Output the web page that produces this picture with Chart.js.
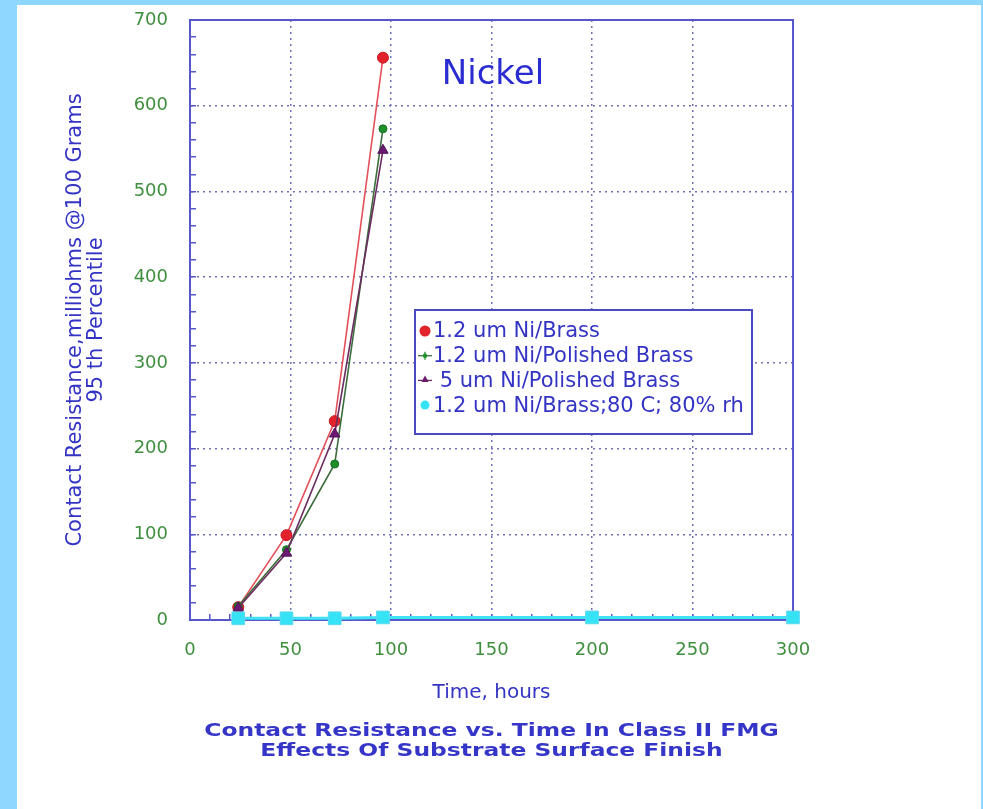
<!DOCTYPE html>
<html>
<head>
<meta charset="utf-8">
<script src="https://cdn.jsdelivr.net/npm/chart.js@4.4.1/dist/chart.umd.min.js"></script>
<style>
  html, body { margin: 0; padding: 0; }
  body { width: 983px; height: 809px; background: #8fd7fd; position: relative; overflow: hidden; }
  #panel { position: absolute; left: 17px; top: 5px; width: 964px; height: 804px; background: #ffffff; }
  canvas { display: block; }
</style>
</head>
<body>
<div id="panel"><canvas id="chart" width="964" height="804"></canvas></div>
<script>
// Exposure time (hours) and 95th-percentile contact resistance (milliohms) per finish
const seriesLabels = [
  '1.2 um Ni/Brass',
  '1.2 um Ni/Polished Brass',
  ' 5 um Ni/Polished Brass',
  '1.2 um Ni/Brass;80 C; 80% rh'
];
const hoursFmg = [24, 48, 72, 96];
const niBrass = [15, 99, 232, 656];
const niPolishedBrass = [16, 82, 182, 573];
const ni5PolishedBrass = [14, 78, 217, 548];
const hoursHumid = [24, 48, 72, 96, 200, 300];
const niBrassHumid = [2, 2, 2, 3, 3, 3];

const xTickLabels = [0, 50, 100, 150, 200, 250, 300];
const yTickLabels = [0, 100, 200, 300, 400, 500, 600, 700];

const chartTitle = 'Nickel';
const xAxisTitle = 'Time, hours';
const yAxisTitle = ['Contact Resistance,milliohms @100 Grams', '95 th Percentile'];
const caption = ['Contact Resistance vs. Time In Class II FMG', 'Effects Of Substrate Surface Finish'];

const AXIS = '#5757cc';
const DOTS = 'rgba(88,88,172,0.85)';
const TICK_TEXT = '#3f8f3f';
const BLUE_TEXT = '#3434c4';
const FONT = '"DejaVu Sans", sans-serif';

const toPoints = (xs, ys) => xs.map((x, i) => ({ x: x, y: ys[i] }));

const styles = [
  { line: '#e4505a', fill: '#e3232c', border: '#c81820', point: 'circle', r: 5.5 },
  { line: '#3d6d3d', fill: '#1f8f2a', border: '#16701f', point: 'circle', r: 4 },
  { line: '#6c2c60', fill: '#6a1a70', border: '#55105a', point: 'triangle', r: 6 },
  { line: '#3fe4f4', fill: '#35e2f6', border: '#5fd8f0', point: 'rect', r: 9 }
];
const seriesData = [
  toPoints(hoursFmg, niBrass),
  toPoints(hoursFmg, niPolishedBrass),
  toPoints(hoursFmg, ni5PolishedBrass),
  toPoints(hoursHumid, niBrassHumid)
];

const datasets = seriesData.map((d, i) => ({
  label: seriesLabels[i],
  data: d,
  showLine: true,
  borderColor: styles[i].line,
  borderWidth: i === 3 ? 3 : 1.6,
  backgroundColor: styles[i].fill,
  pointBackgroundColor: styles[i].fill,
  pointBorderColor: styles[i].border,
  pointBorderWidth: 1,
  pointStyle: styles[i].point,
  pointRadius: styles[i].r,
  tension: 0,
  clip: false,
  order: 4 - i
}));

// Box around the plot plus the in-plot legend, title and caption
const decorations = {
  id: 'decorations',
  beforeDatasetsDraw(chart) {
    const { ctx, chartArea: a } = chart;
    ctx.save();
    ctx.strokeStyle = AXIS;
    ctx.lineWidth = 2;
    ctx.beginPath();
    ctx.moveTo(a.left, a.top);
    ctx.lineTo(a.right, a.top);
    ctx.lineTo(a.right, a.bottom);
    ctx.stroke();
    ctx.restore();
  },
  afterDraw(chart) {
    const { ctx, chartArea: a } = chart;
    ctx.save();

    // title inside plot
    ctx.fillStyle = '#2b2bd2';
    ctx.font = '34px ' + FONT;
    ctx.textAlign = 'center';
    ctx.textBaseline = 'middle';
    ctx.fillText(chartTitle, a.left + 303, a.top + 55);

    // legend box
    const lx = a.left + 225, ly = a.top + 290, lw = 337, lh = 124;
    ctx.fillStyle = '#ffffff';
    ctx.fillRect(lx, ly, lw, lh);
    ctx.strokeStyle = '#4a4ac2';
    ctx.lineWidth = 2;
    ctx.strokeRect(lx, ly, lw, lh);
    ctx.font = '21px ' + FONT;
    ctx.textAlign = 'left';
    ctx.textBaseline = 'middle';
    for (let i = 0; i < seriesLabels.length; i++) {
      const cy = ly + 21 + i * 24.7;
      const mx = lx + 10;
      const s = styles[i];
      if (i === 1 || i === 2) {
        ctx.strokeStyle = s.line;
        ctx.lineWidth = 1.3;
        ctx.beginPath();
        ctx.moveTo(mx - 7, cy);
        ctx.lineTo(mx + 7, cy);
        ctx.stroke();
      }
      ctx.fillStyle = s.fill;
      ctx.beginPath();
      if (i === 0) {
        ctx.arc(mx, cy, 5.5, 0, Math.PI * 2);
        ctx.fill();
      } else if (i === 1) {
        ctx.strokeStyle = s.fill;
        ctx.lineWidth = 1.3;
        ctx.moveTo(mx, cy - 4);
        ctx.lineTo(mx, cy + 4);
        ctx.stroke();
        ctx.beginPath();
        ctx.arc(mx, cy, 2.2, 0, Math.PI * 2);
        ctx.fill();
      } else if (i === 2) {
        ctx.moveTo(mx, cy - 5);
        ctx.lineTo(mx + 3.5, cy + 1.5);
        ctx.lineTo(mx - 3.5, cy + 1.5);
        ctx.closePath();
        ctx.fill();
      } else {
        ctx.arc(mx, cy, 4.5, 0, Math.PI * 2);
        ctx.fill();
      }
      ctx.fillStyle = BLUE_TEXT;
      ctx.fillText(seriesLabels[i], lx + 18, cy + 1);
    }

    // caption under the chart, in a wide face
    ctx.fillStyle = '#3535c8';
    ctx.font = 'bold 18px ' + FONT;
    ctx.textAlign = 'center';
    ctx.textBaseline = 'middle';
    const cx = (a.left + a.right) / 2;
    [726, 746].forEach((y, i) => {
      ctx.save();
      ctx.translate(cx, y);
      ctx.scale(1.3, 1);
      ctx.fillText(caption[i], 0, 0);
      ctx.restore();
    });
    ctx.restore();
  }
};

new Chart(document.getElementById('chart'), {
  type: 'scatter',
  data: { datasets: datasets },
  plugins: [decorations],
  options: {
    responsive: false,
    animation: false,
    devicePixelRatio: 1,
    layout: { padding: { left: 0, right: 188, top: 15, bottom: 0 } },
    plugins: { legend: { display: false }, tooltip: { enabled: false } },
    scales: {
      x: {
        type: 'linear',
        min: 0,
        max: 300,
        afterFit(scale) {
          scale.height = 189;
          scale.paddingLeft = 0;
          scale.paddingRight = 0;
        },
        ticks: {
          stepSize: 10,
          autoSkip: false,
          maxRotation: 0,
          padding: 26,
          color: TICK_TEXT,
          font: { family: FONT, size: 18 },
          callback: (v) => (xTickLabels.includes(v) ? String(v) : '')
        },
        grid: {
          color: (c) => (c.tick && xTickLabels.includes(c.tick.value) && c.tick.value > 0 && c.tick.value < 300 ? DOTS : 'transparent'),
          lineWidth: 1.5,
          drawTicks: true,
          tickLength: -6,
          tickColor: AXIS,
          tickWidth: 1.5
        },
        border: { color: AXIS, width: 2, dash: (c) => (c.type === 'tick' ? [2, 4] : []) },
        title: {
          display: true,
          text: xAxisTitle,
          color: BLUE_TEXT,
          font: { family: FONT, size: 20, lineHeight: 1 },
          padding: { top: 0, bottom: 106 }
        }
      },
      y: {
        min: 0,
        max: 700,
        afterFit(scale) {
          scale.width = 173;
          scale.paddingTop = 0;
          scale.paddingBottom = 0;
        },
        ticks: {
          stepSize: 20,
          autoSkip: false,
          padding: 28,
          color: TICK_TEXT,
          font: { family: FONT, size: 18 },
          callback: (v) => (yTickLabels.includes(v) ? String(v) : '')
        },
        grid: {
          color: (c) => (c.tick && yTickLabels.includes(c.tick.value) && c.tick.value > 0 && c.tick.value < 700 ? DOTS : 'transparent'),
          lineWidth: 1.5,
          drawTicks: true,
          tickLength: -6,
          tickColor: AXIS,
          tickWidth: 1.5
        },
        border: { color: AXIS, width: 2, dash: (c) => (c.type === 'tick' ? [2, 4] : []) },
        title: {
          display: true,
          text: yAxisTitle,
          color: BLUE_TEXT,
          font: { family: FONT, size: 21, lineHeight: 1 },
          padding: { top: 48, bottom: 0 }
        }
      }
    }
  }
});
</script>
</body>
</html>
